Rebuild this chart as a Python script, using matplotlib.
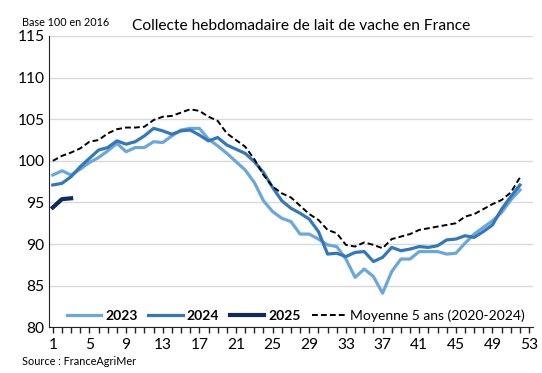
import numpy as np
import matplotlib
matplotlib.use("Agg")
import matplotlib.pyplot as plt

plt.rcParams["font.family"] = ["Lato", "DejaVu Sans"]

weeks = np.arange(1, 53)

lait_2023 = [98.3, 98.8, 98.3, 99.0, 99.8, 100.4, 101.2, 102.1, 101.1, 101.6,
             101.6, 102.3, 102.2, 103.0, 103.7, 103.9, 103.9, 102.6, 101.8, 100.9,
             99.9, 98.9, 97.4, 95.2, 93.9, 93.1, 92.7, 91.2, 91.2, 90.6,
             89.9, 89.7, 88.2, 86.0, 87.0, 86.1, 84.1, 86.7, 88.2, 88.2,
             89.1, 89.1, 89.1, 88.8, 88.9, 90.1, 91.2, 92.0, 92.8, 93.8,
             95.3, 96.5]
lait_2024 = [97.1, 97.3, 98.1, 99.3, 100.3, 101.3, 101.6, 102.4, 102.0, 102.3,
             103.0, 103.9, 103.6, 103.2, 103.6, 103.7, 103.1, 102.4, 102.8, 101.9,
             101.4, 100.9, 99.9, 98.6, 96.8, 95.2, 94.3, 93.7, 93.0, 91.5,
             88.8, 88.9, 88.5, 89.0, 89.1, 87.9, 88.4, 89.6, 89.2, 89.4,
             89.7, 89.6, 89.8, 90.5, 90.6, 91.0, 90.8, 91.5, 92.3, 94.2,
             95.7, 97.1]
lait_2025 = [94.4, 95.4, 95.5]
moyenne_5ans = [100.0, 100.6, 101.0, 101.5, 102.3, 102.5, 103.3, 103.8, 104.0, 104.0,
                104.1, 104.9, 105.3, 105.4, 105.8, 106.2, 106.0, 105.3, 104.8, 103.3,
                102.5, 101.7, 100.2, 98.3, 96.9, 96.1, 95.6, 94.6, 93.6, 92.9,
                91.7, 91.3, 89.9, 89.7, 90.2, 89.9, 89.5, 90.6, 90.9, 91.2,
                91.7, 91.9, 92.1, 92.3, 92.5, 93.3, 93.6, 94.2, 94.8, 95.3,
                96.2, 98.0]

fig = plt.figure(figsize=(5.42, 3.73), dpi=100)
ax = fig.add_axes([0.09, 0.1225, 0.893, 0.781])

ax.plot(weeks, lait_2023, color="#6aa7dd", lw=2.3, label="2023")
ax.plot(weeks, lait_2024, color="#3378ba", lw=2.3, label="2024")
ax.plot(weeks[:len(lait_2025)], lait_2025, color="#0f2a5e", lw=3.0, label="2025")
ax.plot(weeks, moyenne_5ans, color="black", lw=1.4, ls=(0, (3, 1.6)),
        label="Moyenne 5 ans (2020-2024)")

ax.set_xlim(0.56, 53.4)
ax.set_ylim(80, 115)
ax.set_yticks(np.arange(80, 116, 5))
ax.set_xticks(weeks.tolist() + [53])
ax.set_xticklabels([str(w) if (w - 1) % 4 == 0 else "" for w in list(weeks) + [53]])
ax.tick_params(axis="x", direction="out", length=4, width=1, colors="#222222",
               labelsize=11.2, pad=4, labelcolor="black")
ax.tick_params(axis="y", length=0, labelsize=11.2, pad=3)
ax.yaxis.grid(True, color="#d9d9d9", lw=1)
ax.set_axisbelow(True)
for s in ["top", "right"]:
    ax.spines[s].set_visible(False)
ax.spines["left"].set_color("#222222")
ax.spines["bottom"].set_color("#222222")

leg = ax.legend(loc="lower left", bbox_to_anchor=(0.02, -0.01), ncol=4, frameon=False,
                fontsize=10, handlelength=2.45, handletextpad=0.3,
                columnspacing=0.8, borderaxespad=0.2)
for t in leg.get_texts()[:3]:
    t.set_fontweight("bold")

fig.text(0.556, 0.93, "Collecte hebdomadaire de lait de vache en France",
         ha="center", va="center", fontsize=11.2)
fig.text(0.04, 0.94, "Base 100 en 2016", ha="left", va="center", fontsize=7.8)
fig.text(0.04, 0.032, "Source : FranceAgriMer", ha="left", va="center", fontsize=7.8)

fig.savefig("out.png", dpi=100)
